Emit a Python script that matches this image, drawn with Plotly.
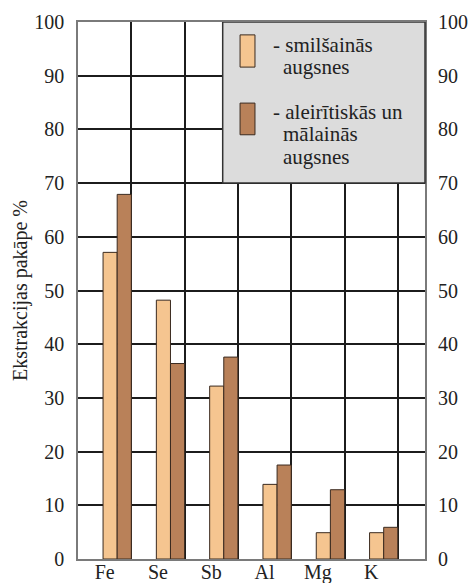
import plotly.graph_objects as go

categories = ["Fe", "Se", "Sb", "Al", "Mg", "K"]
sandy = [57.1, 48.2, 32.2, 13.9, 4.9, 4.9]
silty_clay = [67.9, 36.4, 37.6, 17.5, 12.9, 5.9]
y_ticks = list(range(0, 101, 10))

legend_name_1 = ["- smilšainās", "augsnes"]
legend_name_2 = ["- aleirītiskās un", "mālainās", "augsnes"]
y_title = "Ekstrakcijas pakāpe %"

FONT = "Liberation Serif"
LIGHT = "#F5C590"
DARK = "#B98159"
EDGE = "#3a2a1f"
GRID = "#1c1c1c"

fig = go.Figure()
fig.add_trace(go.Bar(x=categories, y=sandy, name=legend_name_1[0], marker=dict(color=LIGHT, line=dict(color=EDGE, width=1)),
                     offset=-0.03, width=0.265, showlegend=False))
fig.add_trace(go.Bar(x=categories, y=silty_clay, name=legend_name_2[0], marker=dict(color=DARK, line=dict(color=EDGE, width=1)),
                     offset=0.235, width=0.265, showlegend=False))
fig.add_trace(go.Scatter(x=categories, y=sandy, yaxis="y2", mode="none", showlegend=False, hoverinfo="skip"))

fig.update_layout(
    width=474, height=583,
    margin=dict(l=78, r=49, t=22, b=24),
    paper_bgcolor="white", plot_bgcolor="white",
    font=dict(family=FONT, size=20, color="#222"),
    barmode="overlay",
    xaxis=dict(type="category", categoryorder="array", categoryarray=categories,
               tickson="boundaries", showgrid=True, gridcolor=GRID, gridwidth=1.5,
               ticks="", range=[-0.5, 6.01], showline=True, linecolor="#7a7a7a", linewidth=1.5,
               mirror=True, tickfont=dict(family=FONT, size=20), ticklabelstandoff=-6, automargin=False),
    yaxis=dict(range=[0, 100], tickvals=y_ticks, showgrid=True, gridcolor=GRID, gridwidth=1.5,
               zeroline=False, showline=True, linecolor="#7a7a7a", linewidth=1.5, mirror=True,
               ticks="", tickfont=dict(family=FONT, size=20), ticklabelstandoff=8, automargin=False,
               title=dict(text=y_title, font=dict(family=FONT, size=20), standoff=1)),
    yaxis2=dict(range=[0, 100], tickvals=y_ticks, overlaying="y", side="right", showgrid=False,
                zeroline=False, ticks="", tickfont=dict(family=FONT, size=20), ticklabelstandoff=12,
                automargin=False),
)

# legend box (drawn manually to match the reference layout)
fig.add_shape(type="rect", xref="paper", yref="y", x0=0.417, x1=1.0, y0=70, y1=100,
              fillcolor="#DCDCDC", line=dict(color="#333", width=1.5), layer="above")
fig.add_shape(type="rect", xref="paper", yref="paper", x0=0.467, x1=0.510, y0=0.916, y1=0.976,
              fillcolor=LIGHT, line=dict(color=EDGE, width=1), layer="above")
fig.add_shape(type="rect", xref="paper", yref="paper", x0=0.467, x1=0.510, y0=0.790, y1=0.849,
              fillcolor=DARK, line=dict(color=EDGE, width=1), layer="above")

def ann(text, px, py):
    fig.add_annotation(text=text, xref="paper", yref="paper", x=(px - 78) / 347, y=(559 - py) / 537,
                       xanchor="left", yanchor="middle", showarrow=False,
                       font=dict(family=FONT, size=21, color="#222"))

ann(legend_name_1[0], 271, 45)
ann(legend_name_1[1], 281, 67)
ann(legend_name_2[0], 271, 112)
ann(legend_name_2[1], 281, 134)
ann(legend_name_2[2], 281, 157)

fig.write_html("out.html", config={"displayModeBar": False},
               post_script="document.body.style.margin='0';document.body.style.overflow='hidden';")
